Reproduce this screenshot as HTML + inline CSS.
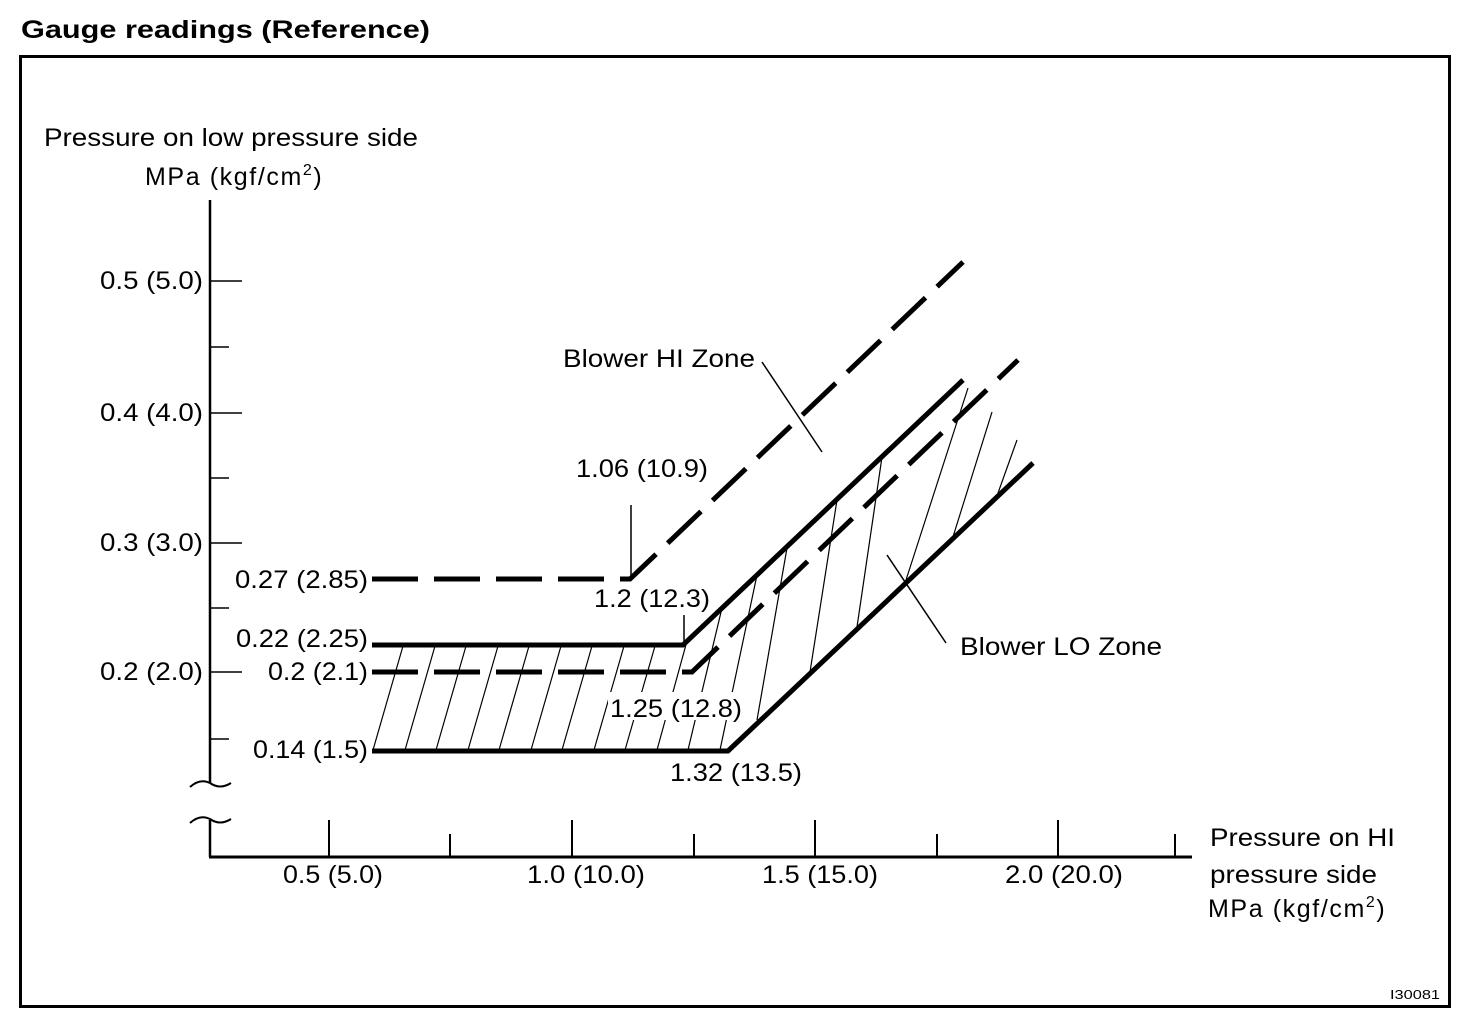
<!DOCTYPE html>
<html><head><meta charset="utf-8"><style>
html,body{margin:0;padding:0;background:#fff;}
svg{display:block;}
text{font-family:"Liberation Sans",Arial,sans-serif;fill:#000;}
</style></head><body>
<svg width="1472" height="1010" viewBox="0 0 1472 1010" xmlns="http://www.w3.org/2000/svg">
<text x="21" y="38" font-size="25" font-weight="bold" textLength="409" lengthAdjust="spacingAndGlyphs">Gauge readings (Reference)</text>
<rect x="20.5" y="56.5" width="1429" height="950" fill="none" stroke="#000" stroke-width="3"/>

<g font-size="25">
<text x="44" y="146" textLength="374" lengthAdjust="spacingAndGlyphs">Pressure on low pressure side</text>
<text x="145" y="185" letter-spacing="1.6">MPa (kgf/cm<tspan font-size="16" dy="-10">2</tspan><tspan dy="10">)</tspan></text>
</g>

<!-- axes -->
<g stroke="#000" fill="none">
<line x1="210" y1="200" x2="210" y2="783" stroke-width="2.5"/>
<line x1="210" y1="820" x2="210" y2="857" stroke-width="2.5"/>
<path d="M190,787 Q200,778 210,783 Q220,790 231,783" stroke-width="2"/>
<path d="M190,823 Q200,814 210,819 Q220,826 231,819" stroke-width="2"/>
<line x1="209" y1="857" x2="1192" y2="857" stroke-width="3"/>
<g stroke-width="1.5">
<line x1="210" y1="281" x2="242" y2="281"/>
<line x1="210" y1="413" x2="242" y2="413"/>
<line x1="210" y1="543" x2="242" y2="543"/>
<line x1="210" y1="672" x2="242" y2="672"/>
<line x1="210" y1="347" x2="229" y2="347"/>
<line x1="210" y1="478" x2="229" y2="478"/>
<line x1="210" y1="608" x2="229" y2="608"/>
<line x1="210" y1="739" x2="229" y2="739"/>
</g>
<g stroke-width="2">
<line x1="329" y1="820" x2="329" y2="857"/>
<line x1="572" y1="820" x2="572" y2="857"/>
<line x1="815" y1="820" x2="815" y2="857"/>
<line x1="1058" y1="820" x2="1058" y2="857"/>
<line x1="450" y1="834" x2="450" y2="857"/>
<line x1="694" y1="834" x2="694" y2="857"/>
<line x1="937" y1="834" x2="937" y2="857"/>
<line x1="1175" y1="834" x2="1175" y2="857"/>
</g>
</g>

<!-- hatching -->
<g stroke="#000" stroke-width="1.2">
<line x1="373" y1="750" x2="403" y2="646"/>
<line x1="405" y1="750" x2="435" y2="646"/>
<line x1="436" y1="750" x2="466" y2="646"/>
<line x1="468" y1="750" x2="498" y2="646"/>
<line x1="499" y1="750" x2="529" y2="646"/>
<line x1="531" y1="750" x2="561" y2="646"/>
<line x1="562" y1="750" x2="592" y2="646"/>
<line x1="594" y1="750" x2="624" y2="646"/>
<line x1="625" y1="750" x2="655" y2="646"/>
<line x1="657" y1="750" x2="687" y2="641"/>
<line x1="688" y1="750" x2="722" y2="608"/>
<line x1="720" y1="750" x2="757" y2="575"/>
<line x1="757" y1="720" x2="787" y2="548"/>
<line x1="810" y1="672" x2="837" y2="500"/>
<line x1="857" y1="627" x2="882" y2="457"/>
<line x1="906" y1="580" x2="968" y2="388"/>
<line x1="952" y1="540" x2="992" y2="412"/>
<line x1="998" y1="493" x2="1017" y2="440"/>
</g>

<!-- series -->
<g fill="none" stroke="#000" stroke-width="5">
<polyline points="372,579 630,579 963,262" stroke-dasharray="46,16"/>
<polyline points="372,645 683,645 963,380"/>
<polyline points="372,672 692,672 1018,360" stroke-dasharray="46,16"/>
<polyline points="372,751 728,751 1033,463"/>
</g>

<!-- leaders -->
<g stroke="#000" stroke-width="1.5">
<line x1="762" y1="362" x2="822" y2="452"/>
<line x1="631" y1="578" x2="631" y2="505"/>
<line x1="684" y1="645" x2="684" y2="615"/>
<line x1="887" y1="555" x2="946" y2="643"/>
</g>

<g font-size="25">
<g text-anchor="end">
<text x="203" y="289" textLength="103" lengthAdjust="spacingAndGlyphs">0.5 (5.0)</text>
<text x="203" y="421" textLength="103" lengthAdjust="spacingAndGlyphs">0.4 (4.0)</text>
<text x="203" y="551" textLength="103" lengthAdjust="spacingAndGlyphs">0.3 (3.0)</text>
<text x="203" y="680" textLength="103" lengthAdjust="spacingAndGlyphs">0.2 (2.0)</text>
<text x="368" y="588" textLength="133" lengthAdjust="spacingAndGlyphs">0.27 (2.85)</text>
<text x="368" y="647" textLength="132" lengthAdjust="spacingAndGlyphs">0.22 (2.25)</text>
<text x="368" y="680" textLength="100" lengthAdjust="spacingAndGlyphs">0.2 (2.1)</text>
<text x="368" y="758" textLength="115" lengthAdjust="spacingAndGlyphs">0.14 (1.5)</text>
</g>
<text x="283" y="883" textLength="100" lengthAdjust="spacingAndGlyphs">0.5 (5.0)</text>
<text x="527" y="883" textLength="118" lengthAdjust="spacingAndGlyphs">1.0 (10.0)</text>
<text x="762" y="883" textLength="116" lengthAdjust="spacingAndGlyphs">1.5 (15.0)</text>
<text x="1005" y="883" textLength="118" lengthAdjust="spacingAndGlyphs">2.0 (20.0)</text>
<text x="1210" y="846" textLength="185" lengthAdjust="spacingAndGlyphs">Pressure on HI</text>
<text x="1210" y="883" textLength="167" lengthAdjust="spacingAndGlyphs">pressure side</text>
<text x="1208" y="917" letter-spacing="1.6">MPa (kgf/cm<tspan font-size="16" dy="-10">2</tspan><tspan dy="10">)</tspan></text>
<text x="563" y="367" textLength="192" lengthAdjust="spacingAndGlyphs">Blower HI Zone</text>
<text x="576" y="477" textLength="132" lengthAdjust="spacingAndGlyphs">1.06 (10.9)</text>
<text x="594" y="607" textLength="116" lengthAdjust="spacingAndGlyphs">1.2 (12.3)</text>
<rect x="608" y="692" width="136" height="28" fill="#fff"/>
<text x="610" y="717" textLength="132" lengthAdjust="spacingAndGlyphs">1.25 (12.8)</text>
<text x="670" y="781" textLength="132" lengthAdjust="spacingAndGlyphs">1.32 (13.5)</text>
<text x="960" y="655" textLength="202" lengthAdjust="spacingAndGlyphs">Blower LO Zone</text>
</g>
<text x="1390" y="999" font-size="13" textLength="50" lengthAdjust="spacingAndGlyphs">I30081</text>
</svg>
</body></html>
